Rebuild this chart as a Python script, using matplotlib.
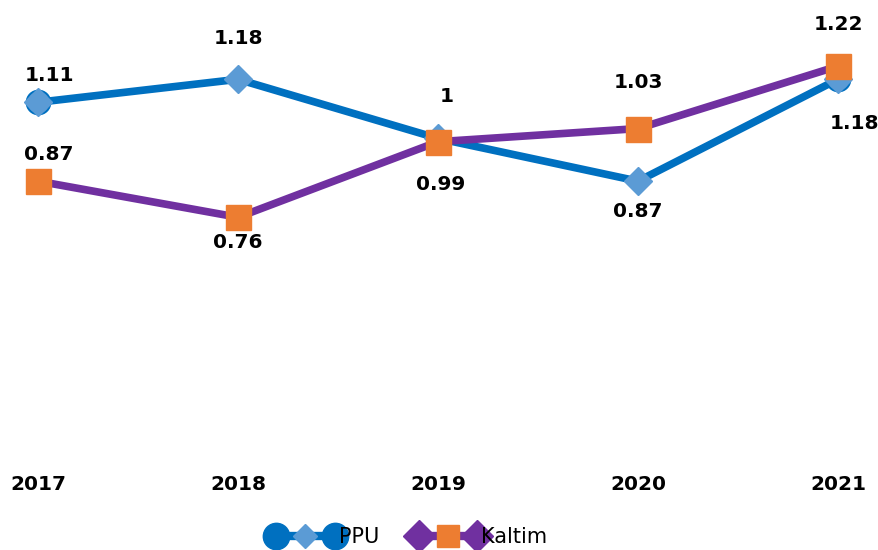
import matplotlib.pyplot as plt
from matplotlib.lines import Line2D
from matplotlib.legend_handler import HandlerLine2D, HandlerTuple

years = ["2017", "2018", "2019", "2020", "2021"]
ppu = [1.11, 1.18, 1.00, 0.87, 1.18]
kaltim = [0.87, 0.76, 0.99, 1.03, 1.22]

# label offsets in points (dx, dy)
ppu_off = [(8, 19), (0, 29.5), (6, 30), (0, -21.5), (12, -32)]
kaltim_off = [(8, 19.5), (0, -18), (2, -31), (0, 33), (0, 30)]

blue, lblue = "#0070C0", "#5B9BD5"
purple, orange = "#7030A0", "#ED7D31"

fig = plt.figure(figsize=(8.79, 5.5), dpi=100)
ax = fig.add_axes([38 / 879, 83 / 550, 800 / 879, 460 / 550])
x = range(len(years))

ax.plot(x, ppu, color=blue, lw=5.5, zorder=2, clip_on=False)
ax.plot([0, 4], [ppu[0], ppu[4]], ls="none", marker="o", ms=17,
        mfc=lblue, mec=blue, mew=1.5, zorder=3, clip_on=False)
ax.plot(x, ppu, ls="none", marker="D", ms=14, mfc=lblue, mec=lblue,
        zorder=3, clip_on=False)
ax.plot(x, kaltim, color=purple, lw=5.5, marker="s", ms=18, mfc=orange,
        mec=orange, zorder=4, clip_on=False)

for i in x:
    ax.annotate(f"{ppu[i]:g}", (i, ppu[i]), xytext=ppu_off[i],
                textcoords="offset points", ha="center", va="center",
                fontsize=14.5, fontweight="bold")
    ax.annotate(f"{kaltim[i]:g}", (i, kaltim[i]), xytext=kaltim_off[i],
                textcoords="offset points", ha="center", va="center",
                fontsize=14.5, fontweight="bold")

ax.set_xlim(0, 4)
ax.set_ylim(0, 1.4)
ax.set_xticks(list(x))
ax.set_xticklabels(years, fontsize=14.5, fontweight="bold")
ax.tick_params(length=0, pad=6)
ax.set_yticks([])
for s in ax.spines.values():
    s.set_visible(False)

# legend handles: line with end markers and a centre marker
p_ends = Line2D([], [], color=blue, lw=6, marker="o", ms=19, mfc=blue, mec=blue)
p_mid = Line2D([], [], ls="none", marker="D", ms=12, mfc=lblue, mec=lblue)
k_ends = Line2D([], [], color=purple, lw=6, marker="D", ms=16, mfc=purple, mec=purple)
k_mid = Line2D([], [], ls="none", marker="s", ms=16, mfc=orange, mec=orange)
fig.legend([(p_ends, p_mid), (k_ends, k_mid)], ["PPU", "Kaltim"],
           handler_map={p_ends: HandlerLine2D(numpoints=2),
                        k_ends: HandlerLine2D(numpoints=2),
                        p_mid: HandlerLine2D(numpoints=1),
                        k_mid: HandlerLine2D(numpoints=1),
                        tuple: HandlerTuple(ndivide=1)},
           loc="center", bbox_to_anchor=(0.465, 0.024), ncol=2, frameon=False,
           fontsize=15, handlelength=3.4, handletextpad=-0.1, columnspacing=1.6)

plt.savefig("out.png", dpi=100)
